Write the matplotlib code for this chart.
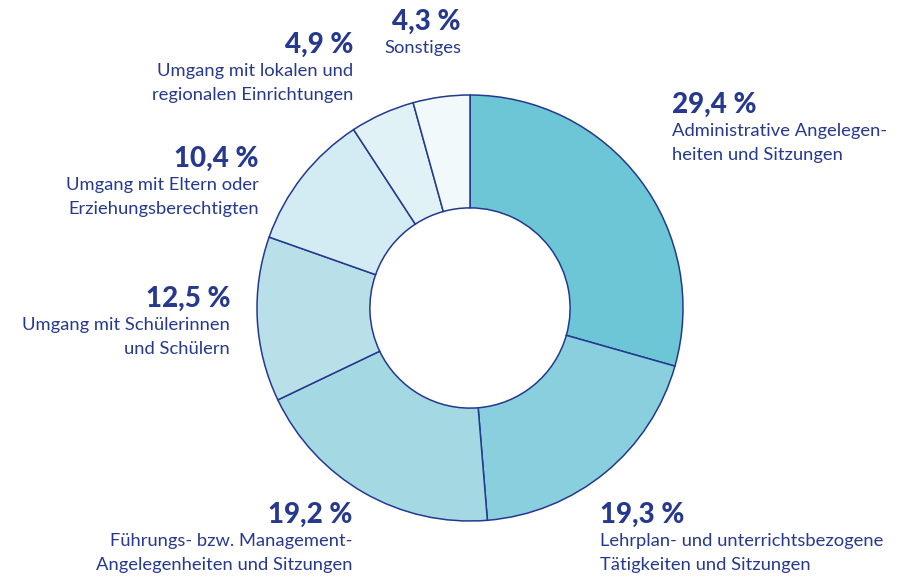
import matplotlib.pyplot as plt

# Anteile der Tätigkeiten (im Uhrzeigersinn ab 12 Uhr)
values = [29.4, 19.3, 19.2, 12.5, 10.4, 4.9, 4.3]
pct_labels = ['29,4 %', '19,3 %', '19,2 %', '12,5 %', '10,4 %', '4,9 %', '4,3 %']
names = [
    'Administrative Angelegen-\nheiten und Sitzungen',
    'Lehrplan- und unterrichtsbezogene\nTätigkeiten und Sitzungen',
    'Führungs- bzw. Management-\nAngelegenheiten und Sitzungen',
    'Umgang mit Schülerinnen\nund Schülern',
    'Umgang mit Eltern oder\nErziehungsberechtigten',
    'Umgang mit lokalen und\nregionalen Einrichtungen',
    'Sonstiges',
]
colors = ['#6cc6d6', '#8acfde', '#a4d8e3', '#b9e0e9', '#d3ebf2', '#e1f2f7', '#f1f9fb']
edge = '#22398f'
txt = '#26398f'

W, H = 913, 577
fig = plt.figure(figsize=(W / 100, H / 100), dpi=100)
ax = fig.add_axes([0, 0, 1, 1])

cx, cy, r = 470, H - 308, 213
ax.pie(values, colors=colors, startangle=90, counterclock=False,
       center=(cx, cy), radius=r,
       wedgeprops=dict(width=r * 0.53, edgecolor=edge, linewidth=1.1))
ax.set_xlim(0, W)
ax.set_ylim(0, H)
ax.set_aspect('equal')
ax.axis('off')

# Position der Beschriftungen (Pixel im Bild), Ausrichtung
label_pos = [
    (672, 105, 'left'),
    (600, 515, 'left'),
    (352, 515, 'right'),
    (230, 299, 'right'),
    (259, 159, 'right'),
    (353, 45, 'right'),
    (461, 22, 'right'),
]
for (x, y, ha), p, n in zip(label_pos, pct_labels, names):
    ax.text(x, H - y, p, ha=ha, va='center', fontsize=20, fontweight='black',
            color=txt, family='Lato')
    ax.text(x, H - y - 18, n, ha=ha, va='top', fontsize=13.2, color=txt,
            family='Lato', linespacing=1.65)

fig.savefig('out.png', dpi=100)
